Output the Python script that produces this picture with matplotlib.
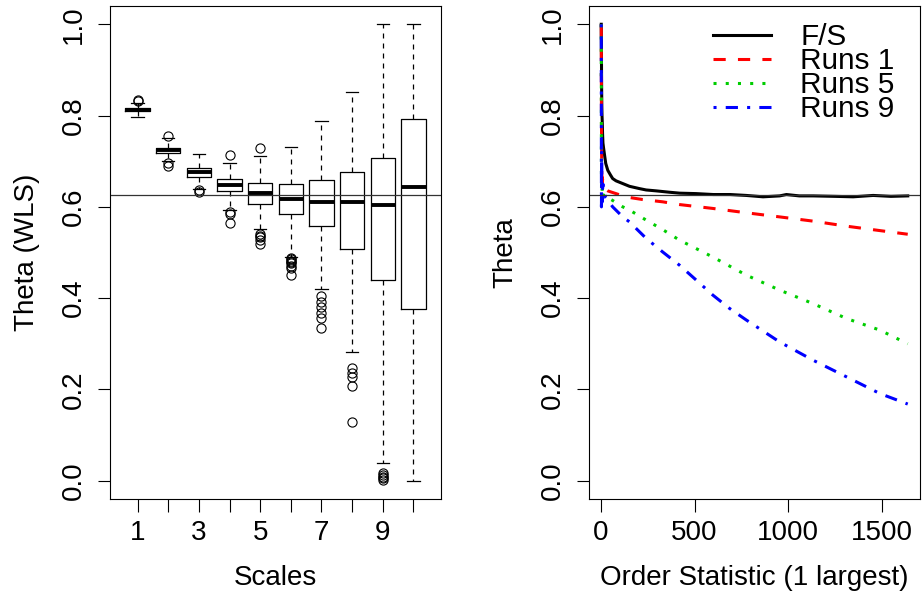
import matplotlib
matplotlib.use("Agg")
import matplotlib.pyplot as plt

plt.rcParams['font.family'] = ['Liberation Sans', 'DejaVu Sans']

# ---- Left panel: WLS theta estimates by scale (box summaries) ----
scales = [1, 2, 3, 4, 5, 6, 7, 8, 9, 10]
scale_labels = ['1', '', '3', '', '5', '', '7', '', '9', '']
box_q1 = [0.809, 0.718, 0.666, 0.634, 0.606, 0.585, 0.559, 0.507, 0.440, 0.377]
box_med = [0.813, 0.724, 0.677, 0.648, 0.631, 0.618, 0.610, 0.610, 0.603, 0.644]
box_q3 = [0.817, 0.730, 0.686, 0.662, 0.652, 0.651, 0.658, 0.677, 0.707, 0.792]
whisk_lo = [0.797, 0.701, 0.640, 0.593, 0.551, 0.490, 0.420, 0.282, 0.039, 0.000]
whisk_hi = [0.828, 0.750, 0.715, 0.695, 0.712, 0.731, 0.788, 0.851, 1.000, 1.000]
outliers = [
    [0.832, 0.834],
    [0.755, 0.697, 0.689],
    [0.636, 0.633],
    [0.713, 0.589, 0.585, 0.564],
    [0.728, 0.541, 0.537, 0.533, 0.528, 0.518],
    [0.488, 0.485, 0.482, 0.479, 0.476, 0.471, 0.465, 0.450],
    [0.405, 0.392, 0.380, 0.368, 0.356, 0.334],
    [0.248, 0.237, 0.228, 0.208, 0.128],
    [0.018, 0.013, 0.009, 0.005, 0.002],
    [],
]
theta_ref = 0.625

# ---- Right panel: theta vs order statistic ----
fs_k = [1, 2, 3, 4, 5, 6, 8, 10, 13, 18, 25, 36, 50, 62, 80, 116, 152, 205, 241,
        295, 366, 420, 509, 600, 690, 777, 866, 955, 991, 1060, 1134, 1250,
        1348, 1455, 1550, 1640]
fs_theta = [1.0, 0.93, 0.86, 0.82, 0.80, 0.79, 0.76, 0.74, 0.73, 0.715, 0.695,
            0.68, 0.67, 0.662, 0.657, 0.651, 0.645, 0.640, 0.637, 0.635, 0.632,
            0.630, 0.629, 0.627, 0.627, 0.625, 0.622, 0.624, 0.627, 0.624,
            0.624, 0.623, 0.622, 0.625, 0.623, 0.624]

r1_k = [1, 2, 3, 4, 5, 6, 8, 10, 13, 18, 25, 36, 50, 80, 116, 152, 223, 330,
        420, 598, 777, 955, 1134, 1312, 1491, 1640]
r1_theta = [1.0, 0.80, 0.72, 0.66, 0.68, 0.65, 0.66, 0.65, 0.645, 0.64, 0.638,
            0.635, 0.633, 0.629, 0.624, 0.6205, 0.616, 0.611, 0.605, 0.5965,
            0.587, 0.578, 0.5687, 0.5577, 0.548, 0.540]

r5_k = [1, 2, 3, 4, 5, 6, 8, 10, 13, 18, 25, 36, 62, 116, 152, 241, 330, 420,
        598, 777, 955, 1134, 1312, 1491, 1640]
r5_theta = [1.0, 0.68, 0.62, 0.66, 0.63, 0.64, 0.625, 0.63, 0.625, 0.628, 0.625,
            0.62, 0.614, 0.600, 0.593, 0.571, 0.550, 0.527, 0.490, 0.4504,
            0.4176, 0.388, 0.3555, 0.330, 0.300]

r9_k = [1, 2, 3, 4, 5, 6, 8, 10, 13, 18, 25, 36, 62, 116, 152, 241, 330, 420,
        509, 598, 687, 777, 955, 1134, 1312, 1491, 1640]
r9_theta = [1.0, 0.60, 0.72, 0.64, 0.61, 0.66, 0.64, 0.65, 0.63, 0.63, 0.62,
            0.615, 0.60, 0.578, 0.567, 0.531, 0.501, 0.472, 0.4395, 0.4066,
            0.3775, 0.352, 0.304, 0.264, 0.2277, 0.191, 0.168]

series_labels = ['F/S', 'Runs 1', 'Runs 5', 'Runs 9']
series_colors = ['black', '#FF0000', '#00CD00', '#0000FF']

TICK_FS = 20
LABEL_FS = 20
LEGEND_FS = 21.4

fig = plt.figure(figsize=(9.23, 6.0), dpi=100)
axL = fig.add_axes([110 / 923, 101 / 600, 331 / 923, 493 / 600])
axR = fig.add_axes([589 / 923, 101 / 600, 331 / 923, 493 / 600])

# ---- boxplot ----
stats = []
for i in range(len(scales)):
    stats.append(dict(med=box_med[i], q1=box_q1[i], q3=box_q3[i],
                      whislo=whisk_lo[i], whishi=whisk_hi[i],
                      fliers=outliers[i]))
axL.bxp(stats, positions=scales, widths=0.8, capwidths=0.4,
        showfliers=True, manage_ticks=False,
        boxprops=dict(color='black', linewidth=0.9),
        medianprops=dict(color='black', linewidth=2.8, solid_capstyle='butt'),
        whiskerprops=dict(color='black', linewidth=0.9, linestyle=(0, (4, 4))),
        capprops=dict(color='black', linewidth=0.9),
        flierprops=dict(marker='o', markerfacecolor='none',
                        markeredgecolor='black', markersize=6.6,
                        markeredgewidth=0.8, linestyle='none'))
axL.axhline(theta_ref, color='#333333', linewidth=0.9)
axL.set_xlim(0.1, 10.9)
axL.set_xticks(scales)
axL.set_xticklabels(scale_labels)
axL.set_xlabel('Scales', fontsize=LABEL_FS)
axL.set_ylabel('Theta (WLS)', fontsize=LABEL_FS)

# ---- order statistic curves ----
series_k = [fs_k, r1_k, r5_k, r9_k]
series_theta = [fs_theta, r1_theta, r5_theta, r9_theta]
series_styles = ['-', (0, (4, 4)), (0, (1, 3)), (0, (1, 3, 4, 3))]
handles = []
for k, th, lab, col, ls in zip(series_k, series_theta, series_labels,
                               series_colors, series_styles):
    h, = axR.plot(k, th, color=col, linestyle=ls, linewidth=2.2, label=lab)
    handles.append(h)
axR.axhline(theta_ref, color='#333333', linewidth=0.9)
kmax = max(fs_k)
pad = 0.04 * (kmax - 1)
axR.set_xlim(1 - pad, kmax + pad)
axR.set_xticks([0, 500, 1000, 1500])
axR.set_xlabel('Order Statistic (1 largest)', fontsize=LABEL_FS)
axR.set_ylabel('Theta', fontsize=LABEL_FS)
axR.legend(handles=handles, loc='upper left', frameon=False,
           fontsize=LEGEND_FS, handlelength=1.95, handletextpad=0.98,
           labelspacing=-0.136, borderaxespad=0.0, borderpad=0.0,
           bbox_to_anchor=(0.3746, 0.965))

yt = [0.0, 0.2, 0.4, 0.6, 0.8, 1.0]
for ax in (axL, axR):
    ax.set_ylim(-0.04, 1.04)
    ax.set_yticks(yt)
    ax.set_yticklabels(['%.1f' % v for v in yt], rotation=90, va='center')
    ax.tick_params(axis='both', labelsize=TICK_FS, length=9, width=0.8,
                   direction='out', color='black')
    ax.tick_params(axis='x', pad=6)
    ax.tick_params(axis='y', pad=8)
    for sp in ax.spines.values():
        sp.set_linewidth(0.8)
        sp.set_color('black')
    ax.xaxis.set_label_coords(0.5, -0.133)
    ax.yaxis.set_label_coords(-0.212, 0.5)

fig.savefig('out.png', dpi=100)
